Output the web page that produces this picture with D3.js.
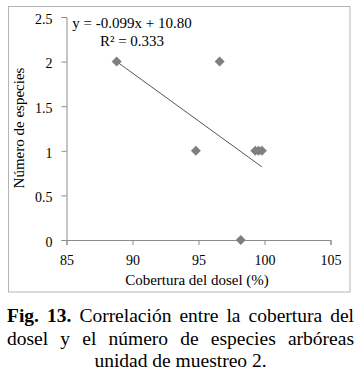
<!DOCTYPE html>
<html>
<head>
<meta charset="utf-8">
<script src="https://cdn.jsdelivr.net/npm/d3@7"></script>
<style>
  body { margin: 0; background: #fff; }
  #root { position: relative; width: 359px; height: 376px; }
  svg { position: absolute; left: 0; top: 0; }
  .caption {
    position: absolute;
    left: 7px;
    width: 347px;
    font-family: "Liberation Serif", "Times New Roman", serif;
    font-size: 19.5px;
    line-height: 22.5px;
    white-space: nowrap;
    color: #000;
  }
  .caption .j { text-align: justify; text-align-last: justify; }
  .caption .c { text-align: center; }
  .serif { font-family: "Liberation Serif", "Times New Roman", serif; }
</style>
</head>
<body>
<div id="root"></div>
<script>
// prettier-ignore
const coverage = [88.8, 96.6, 94.8, 99.3, 99.55, 99.8, 98.2];
const species = [2, 2, 1, 1, 1, 1, 0];
const xTicks = [85, 90, 95, 100, 105];
const yTicks = [0, 0.5, 1, 1.5, 2, 2.5];
// trend line as drawn (ends)
const trendX = [88.8, 99.8];
const trendY = [2.0, 0.82];
const equation = "y = -0.099x + 10.80";
const rSquared = "R² = 0.333";

const width = 359;
const height = 376;

const xScale = d3.scaleLinear().domain([85, 105]).range([66.5, 330.5]);
const yScale = d3.scaleLinear().domain([0, 2.5]).range([240, 17]);

const root = d3.select("#root");
const svg = root.append("svg").attr("width", width).attr("height", height);

// outer frame
svg
  .append("rect")
  .attr("x", 8.5)
  .attr("y", 6.5)
  .attr("width", 341.5)
  .attr("height", 285.5)
  .attr("fill", "none")
  .attr("stroke", "#b4b4b4");

const xAxis = d3
  .axisBottom(xScale)
  .tickValues(xTicks)
  .tickSize(5)
  .tickPadding(10)
  .tickFormat((d) => d);
const yAxis = d3
  .axisLeft(yScale)
  .tickValues(yTicks)
  .tickSize(5)
  .tickPadding(9)
  .tickFormat((d) => d);

const gx = svg
  .append("g")
  .attr("transform", `translate(0 ${yScale(0)})`)
  .call(xAxis);
const gy = svg
  .append("g")
  .attr("transform", `translate(${xScale(85)} 0)`)
  .call(yAxis);

[gx, gy].forEach((g) => {
  g.attr("font-family", null);
  g.select(".domain").attr("stroke", "#8c8c8c");
  g.selectAll(".tick line").attr("stroke", "#8c8c8c");
  g.selectAll(".tick text")
    .attr("class", "serif")
    .attr("fill", "#000")
    .style("font-size", "14px");
});
gy.selectAll(".tick text").attr("dy", "0.45em");

// trend line
svg
  .append("line")
  .attr("x1", xScale(trendX[0]))
  .attr("y1", yScale(trendY[0]))
  .attr("x2", xScale(trendX[1]))
  .attr("y2", yScale(trendY[1]))
  .attr("stroke", "#555")
  .attr("stroke-width", 1);

// points
const diamond = d3.symbol().type(d3.symbolSquare).size(50);
svg
  .selectAll("path.pt")
  .data(coverage)
  .enter()
  .append("path")
  .attr("class", "pt")
  .attr("d", diamond)
  .attr("fill", "#7f7f7f")
  .attr(
    "transform",
    (d, i) => `translate(${xScale(d)} ${yScale(species[i])}) rotate(45)`
  );

const label = (x, y, text) =>
  svg
    .append("text")
    .attr("class", "serif")
    .attr("x", x)
    .attr("y", y)
    .attr("text-anchor", "middle")
    .style("font-size", "15px")
    .text(text);

// equation labels
label(132, 28, equation);
label(132, 46, rSquared);

// axis titles
label(197, 285, "Cobertura del dosel (%)");
label(0, 0, "Número de especies").attr("transform", "translate(24 128) rotate(-90)");

// caption
const caption = root.append("div").attr("class", "caption").style("top", "305px");
const l1 = caption.append("div").attr("class", "j");
l1.append("b").text("Fig. 13.");
l1.append("span").text(" Correlación entre la cobertura del");
caption.append("div").attr("class", "j").text("dosel y el número de especies arbóreas");
caption.append("div").attr("class", "c").text("unidad de muestreo 2.");
</script>
</body>
</html>
